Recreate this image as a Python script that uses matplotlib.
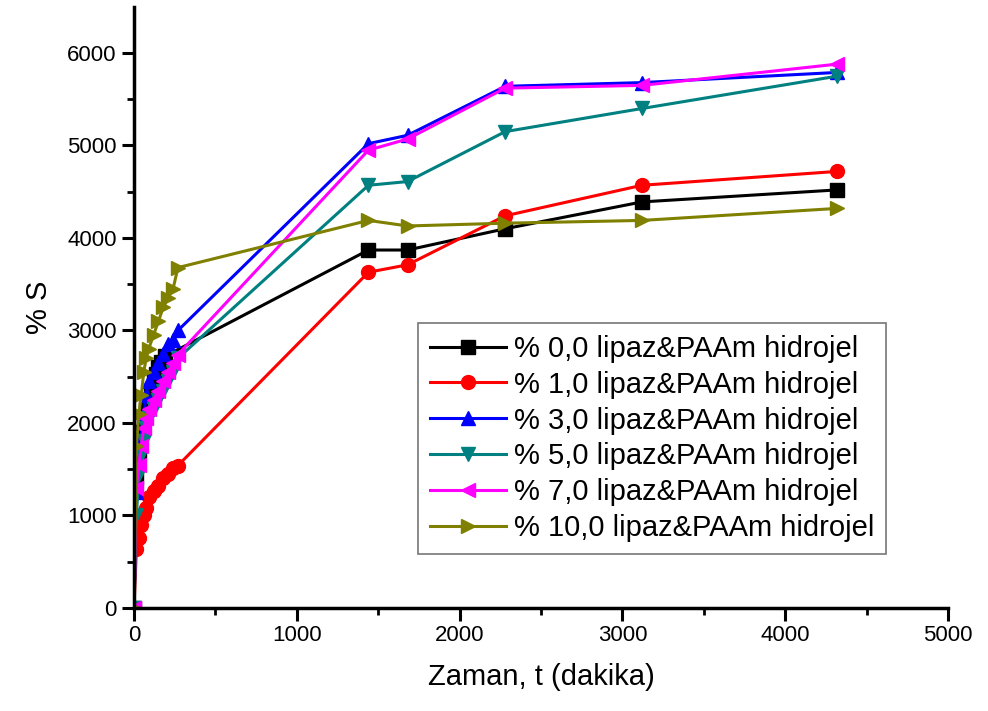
import matplotlib.pyplot as plt

# time points (minutes)
t_short = [0, 15, 30, 45, 60, 75, 90, 105, 120, 135, 150, 165, 190, 1440, 1680, 2280, 3120, 4320]
t_full = [0, 15, 30, 45, 60, 75, 90, 120, 150, 180, 210, 240, 270, 1440, 1680, 2280, 3120, 4320]

s_00 = [0, 1400, 1700, 1900, 2050, 2150, 2250, 2350, 2450, 2530, 2600, 2660, 2720, 3870, 3870, 4100, 4390, 4520]
s_10 = [0, 640, 760, 900, 1000, 1080, 1200, 1260, 1320, 1400, 1450, 1510, 1540, 3630, 3710, 4240, 4570, 4720]
s_30 = [0, 1250, 1600, 1850, 2100, 2300, 2450, 2550, 2650, 2750, 2850, 2900, 3000, 5020, 5110, 5640, 5680, 5790]
s_50 = [0, 1000, 1450, 1650, 1800, 1950, 2050, 2150, 2250, 2350, 2450, 2550, 2700, 4570, 4610, 5150, 5400, 5750]
s_70 = [0, 1300, 1550, 1750, 1950, 2050, 2150, 2250, 2350, 2450, 2550, 2650, 2740, 4950, 5070, 5620, 5650, 5880]
s_100 = [0, 1750, 2100, 2300, 2550, 2700, 2800, 2950, 3100, 3250, 3350, 3450, 3680, 4190, 4130, 4160, 4190, 4320]

labels = ['% 0,0 lipaz&PAAm hidrojel', '% 1,0 lipaz&PAAm hidrojel', '% 3,0 lipaz&PAAm hidrojel',
          '% 5,0 lipaz&PAAm hidrojel', '% 7,0 lipaz&PAAm hidrojel', '% 10,0 lipaz&PAAm hidrojel']

plt.rcParams['font.family'] = 'Liberation Sans'

fig = plt.figure(figsize=(9.88, 7.11), dpi=100)
ax = fig.add_axes([0.1356, 0.1449, 0.824, 0.8456])

series = [
    (t_short, s_00, 'black', 's'),
    (t_full, s_10, 'red', 'o'),
    (t_full, s_30, 'blue', '^'),
    (t_full, s_50, '#008080', 'v'),
    (t_full, s_70, 'magenta', '<'),
    (t_full, s_100, '#808000', '>'),
]
for (x, y, c, m), lab in zip(series, labels):
    ax.plot(x, y, color=c, marker=m, markersize=10, linewidth=2.2, label=lab)

ax.set_xlim(0, 5000)
ax.set_ylim(0, 6500)
ax.set_xticks(range(0, 5001, 1000))
ax.set_yticks(range(0, 6001, 1000))
ax.set_xticks(range(500, 5000, 1000), minor=True)
ax.set_yticks(range(500, 6500, 1000), minor=True)
for s in ['top', 'right']:
    ax.spines[s].set_visible(False)
for s in ['left', 'bottom']:
    ax.spines[s].set_linewidth(2.5)
ax.tick_params(which='major', direction='out', length=9, width=2.2, labelsize=16)
ax.tick_params(which='minor', direction='out', length=5, width=2)

ax.set_xlabel('Zaman, t (dakika)', fontsize=21, labelpad=12)
ax.set_ylabel('% S', fontsize=21, labelpad=10)

leg = ax.legend(loc='lower left', bbox_to_anchor=(0.349, 0.09), fontsize=21, frameon=True,
                fancybox=False, edgecolor='#555555', handlelength=2.6, handletextpad=0.3,
                borderpad=0.4, labelspacing=0.27, borderaxespad=0)
leg.get_frame().set_linewidth(1.2)

fig.savefig('out.png', dpi=100)
